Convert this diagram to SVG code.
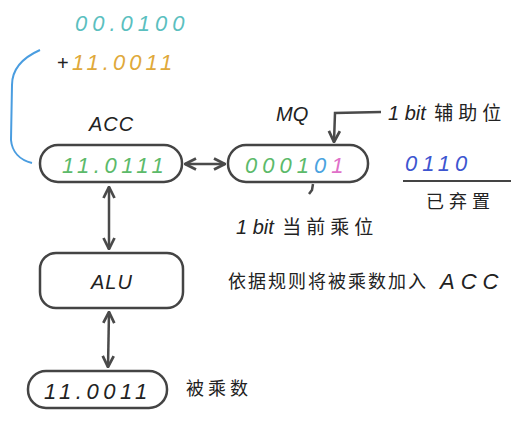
<svg xmlns="http://www.w3.org/2000/svg" width="531" height="422" viewBox="0 0 531 422">
<style>
.box{fill:none;stroke:#444;stroke-width:2.5}
.ln{fill:none;stroke:#4a4a4a;stroke-width:2.5}
.t{font-family:"Liberation Sans","Noto Sans CJK SC",sans-serif;font-style:italic;fill:#222}
.d{font-size:22px;letter-spacing:5px}
.c{font-family:"Noto Sans CJK SC",sans-serif;font-size:18px;fill:#222;letter-spacing:2px}
</style>
<defs>
<marker id="ah" viewBox="0 0 10 10" refX="9" refY="5" markerWidth="5.5" markerHeight="5.5" orient="auto-start-reverse">
<path d="M1,1 L9,5 L1,9" fill="none" stroke="#4a4a4a" stroke-width="2"/>
</marker>
</defs>
<rect width="531" height="422" fill="#fff"/>
<g id="sum">
<text class="t d" x="75" y="31" style="fill:#5bbfbf">00.0100</text>
<text class="t" x="57" y="70" font-size="20" style="font-style:normal">+</text>
<text class="t d" x="72" y="70" style="fill:#e0a93a;letter-spacing:4px">11.0011</text>
<path d="M40,50 C22,58 12,70 12,85 L11,140 C12,152 20,160 32,163" fill="none" stroke="#4a9de0" stroke-width="2"/>
</g>
<g id="acc">
<text class="t" x="89" y="131" font-size="20" letter-spacing="1">ACC</text>
<rect class="box" x="40" y="145" width="142" height="37" rx="18"/>
<text class="t d" x="62" y="173" style="fill:#5cba6a;letter-spacing:4.5px">11.0111</text>
</g>
<g id="mq">
<text class="t" x="276" y="121" font-size="20">MQ</text>
<rect class="box" x="228" y="145" width="140" height="37" rx="18"/>
<text class="t d" x="245" y="173"><tspan style="fill:#5cba6a">0001</tspan><tspan style="fill:#4aa3df">0</tspan><tspan style="fill:#e070c8">1</tspan></text>
</g>
<g id="aux">
<text class="t" x="388" y="120" font-size="20">1 bit <tspan class="c" style="font-style:normal;font-size:19px;letter-spacing:5px" dx="3">辅助位</tspan></text>
</g>
<g id="cur">
<text class="t" x="236" y="234" font-size="20">1 bit <tspan class="c" style="font-style:normal;font-size:19px;letter-spacing:5px" dx="3">当前乘位</tspan></text>
</g>
<g id="discard">
<text class="t d" x="405" y="171" style="fill:#3d55d0">0110</text>
<line x1="403" y1="181" x2="511" y2="181" stroke="#444" stroke-width="2"/>
<text class="c" x="426" y="208" style="letter-spacing:5px">已弃置</text>
</g>
<g id="alu">
<rect class="box" x="40" y="253" width="143" height="55" rx="16"/>
<text class="t" x="91" y="289" font-size="20" letter-spacing="1">ALU</text>
<text class="c" x="228" y="288">依据规则将被乘数加入</text>
<text class="t" x="440" y="289" font-size="22" style="letter-spacing:6px">ACC</text>
</g>
<g id="mcand">
<rect class="box" x="28" y="371" width="139" height="37" rx="18"/>
<text class="t d" x="44" y="399" style="letter-spacing:4.5px">11.0011</text>
<text class="c" x="186" y="395" style="letter-spacing:4px">被乘数</text>
</g>
<g id="connectors">
<line class="ln" x1="185" y1="164" x2="225" y2="164" marker-start="url(#ah)" marker-end="url(#ah)"/>
<line class="ln" x1="109" y1="187" x2="109" y2="249" marker-start="url(#ah)" marker-end="url(#ah)"/>
<line class="ln" x1="109" y1="312" x2="108" y2="367" marker-start="url(#ah)" marker-end="url(#ah)"/>
<path class="ln" d="M381,112 L335,113 L334,142" marker-end="url(#ah)"/>
<path d="M313,184 L312,190 L309,194" fill="none" stroke="#4a4a4a" stroke-width="2.5"/>
</g>
</svg>
